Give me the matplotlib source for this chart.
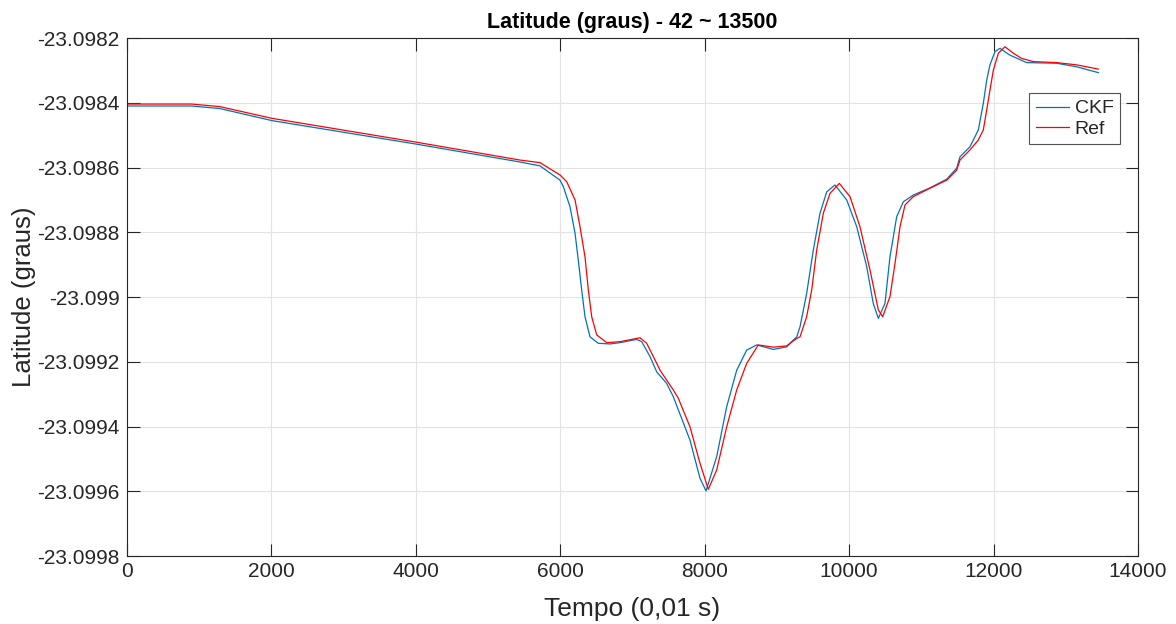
import matplotlib
matplotlib.use("Agg")
import matplotlib.pyplot as plt

plt.rcParams['font.family'] = ['Liberation Sans', 'DejaVu Sans']

title = "Latitude (graus) - 42 ~ 13500"
xlabel = "Tempo (0,01 s)"
ylabel = "Latitude (graus)"

ref_t = [0, 900, 1294, 2010, 4017, 5446, 5723, 6000, 6093, 6208, 6277, 6346, 6392, 6439,
         6508, 6646, 6830, 7107, 7200, 7339, 7384, 7568, 7638, 7799, 7938, 8053, 8169,
         8307, 8446, 8584, 8745, 8952, 9138, 9276, 9322, 9414, 9484, 9553, 9645, 9737,
         9866, 10014, 10152, 10291, 10406, 10466, 10567, 10637, 10706, 10775, 10890,
         11121, 11353, 11491, 11536, 11674, 11790, 11859, 11906, 11951, 11998, 12067,
         12159, 12274, 12390, 12551, 12875, 13152, 13451]
ref_lat = [-23.098404, -23.098404, -23.098412, -23.098448, -23.098522, -23.098577,
           -23.098585, -23.098623, -23.098644, -23.098700, -23.098783, -23.098876,
           -23.098978, -23.099061, -23.099117, -23.099141, -23.099138, -23.099126,
           -23.099143, -23.099205, -23.099226, -23.099287, -23.099313, -23.099401,
           -23.099514, -23.099594, -23.099534, -23.099401, -23.099287, -23.099205,
           -23.099148, -23.099155, -23.099151, -23.099128, -23.099123, -23.099061,
           -23.098978, -23.098855, -23.098741, -23.098680, -23.098649, -23.098690,
           -23.098783, -23.098917, -23.099040, -23.099061, -23.098999, -23.098896,
           -23.098783, -23.098716, -23.098690, -23.098664, -23.098639, -23.098608,
           -23.098577, -23.098546, -23.098515, -23.098484, -23.098422, -23.098361,
           -23.098299, -23.098247, -23.098227, -23.098247, -23.098263, -23.098273,
           -23.098276, -23.098283, -23.098296]

ckf_t = [0, 900, 1294, 2010, 4017, 5446, 5723, 6000, 6046, 6138, 6208, 6253, 6300, 6346,
         6415, 6530, 6692, 6830, 7062, 7131, 7246, 7338, 7477, 7568, 7799, 7938, 8021,
         8169, 8307, 8446, 8584, 8723, 8952, 9138, 9183, 9277, 9322, 9414, 9506, 9599,
         9692, 9806, 9968, 10107, 10245, 10336, 10406, 10498, 10567, 10660, 10752, 10890,
         11121, 11353, 11491, 11536, 11674, 11790, 11859, 11906, 11951, 12021, 12090,
         12228, 12459, 12875, 13152, 13451]
ckf_lat = [-23.098410, -23.098410, -23.098418, -23.098455, -23.098528, -23.098583,
           -23.098595, -23.098639, -23.098659, -23.098721, -23.098803, -23.098886,
           -23.098978, -23.099061, -23.099123, -23.099143, -23.099145, -23.099141,
           -23.099131, -23.099138, -23.099184, -23.099231, -23.099267, -23.099308,
           -23.099442, -23.099560, -23.099599, -23.099493, -23.099339, -23.099226,
           -23.099164, -23.099148, -23.099162, -23.099154, -23.099143, -23.099123,
           -23.099092, -23.098989, -23.098855, -23.098741, -23.098675, -23.098654,
           -23.098700, -23.098783, -23.098906, -23.099020, -23.099066, -23.099020,
           -23.098876, -23.098752, -23.098706, -23.098685, -23.098663, -23.098636,
           -23.098602, -23.098567, -23.098536, -23.098484, -23.098402, -23.098330,
           -23.098283, -23.098242, -23.098232, -23.098253, -23.098276, -23.098278,
           -23.098289, -23.098307]

xticks = [0, 2000, 4000, 6000, 8000, 10000, 12000, 14000]
yticks = [-23.0998, -23.0996, -23.0994, -23.0992, -23.099, -23.0988, -23.0986, -23.0984, -23.0982]
ytick_labels = ["-23.0998", "-23.0996", "-23.0994", "-23.0992", "-23.099",
                "-23.0988", "-23.0986", "-23.0984", "-23.0982"]
series_names = ["CKF", "Ref"]

fig = plt.figure(figsize=(11.76, 6.24), dpi=100)
ax = fig.add_axes([126.5/1176, 1-556/624, (1138-126.5)/1176, (556-38)/624])

axc = '#262626'
ax.plot(ckf_t, ckf_lat, color='#0072BD', lw=0.9, label=series_names[0])
ax.plot(ref_t, ref_lat, color='#FF0000', lw=0.9, label=series_names[1])

ax.set_xlim(0, 14000)
ax.set_ylim(-23.0998, -23.0982)
ax.set_xticks(xticks)
ax.set_xticklabels([str(v) for v in xticks])
ax.set_yticks(yticks)
ax.set_yticklabels(ytick_labels)
ax.grid(True, color='#e3e3e3', lw=0.8)
ax.set_axisbelow(True)
ax.tick_params(direction='in', length=9, width=0.8, colors=axc, labelsize=15,
               top=True, right=True, labelcolor=axc)
ax.tick_params(axis='x', pad=4)
ax.tick_params(axis='y', pad=5)
for s in ax.spines.values():
    s.set_color(axc)
    s.set_linewidth(0.8)

ax.set_title(title, fontsize=15.5, fontweight='bold', color='black', pad=7)
ax.set_xlabel(xlabel, fontsize=19, color=axc, labelpad=12)
ax.set_ylabel(ylabel, fontsize=18.5, color=axc, labelpad=1)

leg = ax.legend(loc='upper right', bbox_to_anchor=(0.982, 0.893), fontsize=14,
                frameon=True, fancybox=False, handlelength=1.7, borderpad=0.33,
                labelspacing=0.15, handletextpad=0.3, borderaxespad=0)
leg.get_frame().set_edgecolor(axc)
leg.get_frame().set_linewidth(0.8)
for t in leg.get_texts():
    t.set_color(axc)

fig.savefig("out.png", dpi=100)
